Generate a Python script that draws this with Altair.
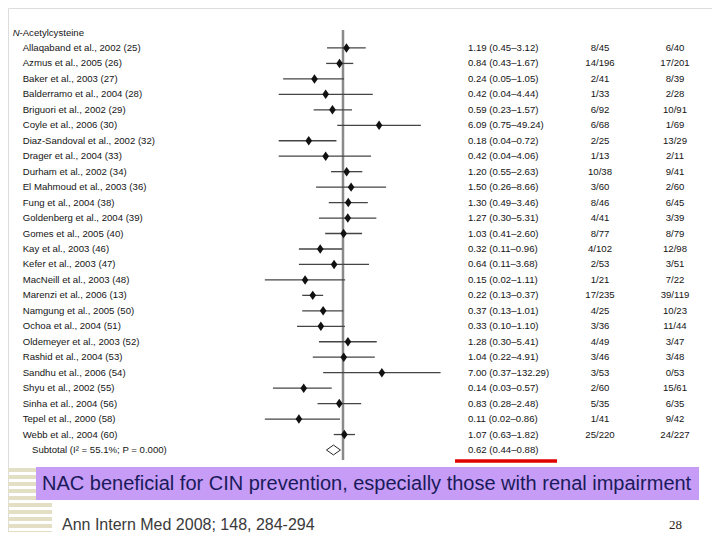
import altair as alt
import pandas as pd

studies = ["Allaqaband et al., 2002 (25)", "Azmus et al., 2005 (26)", "Baker et al., 2003 (27)",
           "Balderramo et al., 2004 (28)", "Briguori et al., 2002 (29)", "Coyle et al., 2006 (30)",
           "Diaz-Sandoval et al., 2002 (32)", "Drager et al., 2004 (33)", "Durham et al., 2002 (34)",
           "El Mahmoud et al., 2003 (36)", "Fung et al., 2004 (38)", "Goldenberg et al., 2004 (39)",
           "Gomes et al., 2005 (40)", "Kay et al., 2003 (46)", "Kefer et al., 2003 (47)",
           "MacNeill et al., 2003 (48)", "Marenzi et al., 2006 (13)", "Namgung et al., 2005 (50)",
           "Ochoa et al., 2004 (51)", "Oldemeyer et al., 2003 (52)", "Rashid et al., 2004 (53)",
           "Sandhu et al., 2006 (54)", "Shyu et al., 2002 (55)", "Sinha et al., 2004 (56)",
           "Tepel et al., 2000 (58)", "Webb et al., 2004 (60)"]
or_vals = [1.19, 0.84, 0.24, 0.42, 0.59, 6.09, 0.18, 0.42, 1.20, 1.50, 1.30, 1.27, 1.03,
           0.32, 0.64, 0.15, 0.22, 0.37, 0.33, 1.28, 1.04, 7.00, 0.14, 0.83, 0.11, 1.07]
ci_lo = [0.45, 0.43, 0.05, 0.04, 0.23, 0.75, 0.04, 0.04, 0.55, 0.26, 0.49, 0.30, 0.41,
         0.11, 0.11, 0.02, 0.13, 0.13, 0.10, 0.30, 0.22, 0.37, 0.03, 0.28, 0.02, 0.63]
ci_hi = [3.12, 1.67, 1.05, 4.44, 1.57, 49.24, 0.72, 4.06, 2.63, 8.66, 3.46, 5.31, 2.60,
         0.96, 3.68, 1.11, 0.37, 1.01, 1.10, 5.41, 4.91, 132.29, 0.57, 2.48, 0.86, 1.82]
nac_events = ["8/45", "14/196", "2/41", "1/33", "6/92", "6/68", "2/25", "1/13", "10/38", "3/60",
              "8/46", "4/41", "8/77", "4/102", "2/53", "1/21", "17/235", "4/25", "3/36", "4/49",
              "3/46", "3/53", "2/60", "5/35", "1/41", "25/220"]
ctrl_events = ["6/40", "17/201", "8/39", "2/28", "10/91", "1/69", "13/29", "2/11", "9/41", "2/60",
               "6/45", "3/39", "8/79", "12/98", "3/51", "7/22", "39/119", "10/23", "11/44", "3/47",
               "3/48", "0/53", "15/61", "6/35", "9/42", "24/227"]
subtotal_label = "Subtotal (I\u00b2 = 55.1%; P = 0.000)"
subtotal_or, subtotal_lo, subtotal_hi = 0.62, 0.44, 0.88
null_value = 1.0
header_italic = "N"
header_rest = "-Acetylcysteine"
banner_text = "NAC beneficial for CIN prevention, especially those with renal impairment"
citation_text = "Ann Intern Med 2008; 148, 284-294"
page_number = "28"
stripes = list(range(10))

df = pd.DataFrame({
    "row": list(range(1, len(studies) + 1)),
    "study": studies,
    "or": or_vals,
    "lo": ci_lo,
    "hi": ci_hi,
    "label": [f"{o:.2f} ({l:.2f}\u2013{h:.2f})" for o, l, h in zip(or_vals, ci_lo, ci_hi)],
    "nac": nac_events,
    "ctrl": ctrl_events,
})
n_rows = len(studies) + 1
sub = pd.DataFrame({"row": [n_rows], "study": [subtotal_label], "or": [subtotal_or],
                    "lo": [subtotal_lo], "hi": [subtotal_hi],
                    "label": [f"{subtotal_or:.2f} ({subtotal_lo:.2f}\u2013{subtotal_hi:.2f})"]})
head = pd.DataFrame({"row": [0], "a": [header_italic], "b": [header_rest]})
one = pd.DataFrame({"k": [0], "nv": [null_value]})
stripe_df = pd.DataFrame({"s": stripes})

xs = alt.Scale(type="log", domain=[0.001, 1000], range=[197, 473])
ys = alt.Scale(domain=[0, n_rows], range=[24.5, 442])
X = lambda f: alt.X(f, type="quantitative", scale=xs, axis=None)
Y = alt.Y("row:Q", scale=ys, axis=None)

FONT = "Liberation Sans"
FS = 9.6
TC = "#151515"

null_line = alt.Chart(one).mark_rule(color="#8a8a8a", strokeWidth=2.5).encode(
    x=X("nv"), y=alt.value(22), y2=alt.value(452))
ci = alt.Chart(df).mark_rule(color="#444444", strokeWidth=1.3).encode(
    x=X("lo"), x2="hi", y=Y)
pts = alt.Chart(df).mark_point(shape="M-0.7,0L0,-1L0.7,0L0,1Z", filled=True, opacity=1,
                               color="#111111", size=90).encode(x=X("or"), y=Y)
sub_d = alt.Chart(sub).mark_point(shape="M-1,0L0,-0.7L1,0L0,0.7Z", filled=False, opacity=1,
                                  color="#111111", strokeWidth=0.9, size=196).encode(x=X("or"), y=Y)

def txt(data, field, xpos, align="left", **kw):
    return alt.Chart(data).mark_text(align=align, baseline="middle", font=FONT, fontSize=FS,
                                     color=TC, **kw).encode(
        x=alt.value(xpos), y=Y, text=f"{field}:N")

t_study = txt(df, "study", 14.7)
t_or = txt(df, "label", 460)
t_nac = txt(df, "nac", 592, align="center")
t_ctrl = txt(df, "ctrl", 667, align="center")
t_sub = txt(sub, "study", 24)
t_sub_or = txt(sub, "label", 460)
t_h1 = txt(head, "a", 4.7, fontStyle="italic")
t_h2 = txt(head, "b", 11.5)

red = alt.Chart(one).mark_rule(color="#e00000", strokeWidth=3.5).encode(
    x=alt.value(447), x2=alt.value(549), y=alt.value(453))
box = alt.Chart(one).mark_rect(color="#c69cf6").encode(
    x=alt.value(28), x2=alt.value(691), y=alt.value(459), y2=alt.value(492))
banner = alt.Chart(one).mark_text(align="left", baseline="middle", font=FONT, fontSize=20,
                                  color="#1a1a5a").encode(
    x=alt.value(34), y=alt.value(476), text=alt.value(banner_text))
cite = alt.Chart(one).mark_text(align="left", baseline="middle", font=FONT, fontSize=16,
                                color="#3a3a3a").encode(
    x=alt.value(54), y=alt.value(517), text=alt.value(citation_text))
page = alt.Chart(one).mark_text(align="left", baseline="middle", font="Liberation Serif",
                                fontSize=13, color="#2a1a1a").encode(
    x=alt.value(661), y=alt.value(517), text=alt.value(page_number))
stripe = alt.Chart(stripe_df).transform_calculate(
    py="462 + 7 * datum.s"
).mark_rule(color="#e3dfc4", strokeWidth=4).encode(
    x=alt.value(-8), x2=alt.value(44),
    y=alt.Y("py:Q", scale=None, axis=None))

chart = alt.layer(
    stripe, box, banner, cite, page, red,
    null_line, ci, pts, sub_d,
    t_h1, t_h2, t_study, t_or, t_nac, t_ctrl, t_sub, t_sub_or,
).properties(
    width=704, height=524, padding=0, autosize=alt.AutoSizeParams(type="none")
).configure_view(strokeWidth=0).configure(background="white")

chart.save("out.html", embed_options={"renderer": "svg", "actions": False})
